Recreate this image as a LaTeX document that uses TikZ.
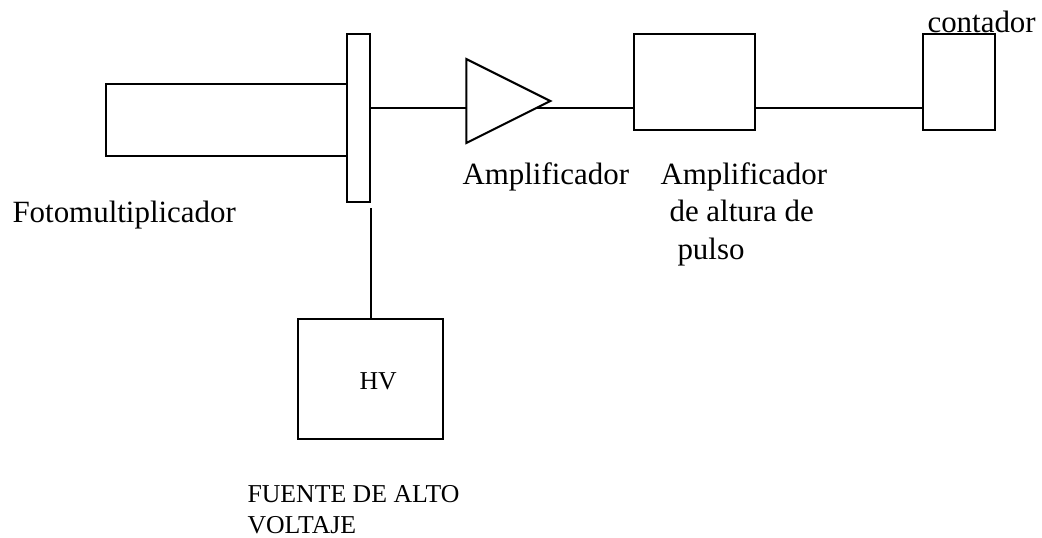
\documentclass[tikz,border=0pt]{standalone}
\usepackage{fontspec}
\setmainfont{Liberation Serif}
\usetikzlibrary{shapes.geometric,backgrounds}
\newcommand{\pxu}{0.388pt}

\begin{document}
\begin{tikzpicture}[x=0.388pt,y=-0.388pt,
  box/.style={draw,line width=0.8pt,inner sep=0pt},
  wireline/.style={line width=0.8pt},
  lbl/.style={inner sep=0pt,font=\fontsize{12}{14.5}\selectfont},
  lblsmall/.style={inner sep=0pt,font=\fontsize{10}{12}\selectfont}]
\useasboundingbox (0,0) rectangle (1042,537);

% Left: photomultiplier tube and base plate
\node[box,minimum width=241*\pxu,minimum height=72*\pxu] (tube) at (226.5,120) {};
\node[box,minimum width=23*\pxu,minimum height=168*\pxu] (plate) at (358.5,118) {};
\node[lbl,anchor=base west] (tubelbl) at (12,222) {Fotomultiplicador};

% High voltage supply below
\node[box,minimum width=145*\pxu,minimum height=120*\pxu] (hv) at (370.5,379) {};
\node[lblsmall,anchor=base west] (hvtxt) at (359,389) {HV};
\node[lblsmall,anchor=north west,align=left] (hvlbl) at (247,485) {FUENTE DE ALTO\\VOLTAJE};
\draw[wireline] ([yshift=-2pt]plate.south east) -- (plate.south east |- hv.north);

% Signal chain
\coordinate (wire) at (0,108);
\node[box,fill=white,isosceles triangle,isosceles triangle stretches,
      minimum width=84*\pxu,minimum height=84*\pxu,anchor=apex] (amp) at (553,101) {};
\node[lbl,anchor=base west] (amplbl) at (462,184) {Amplificador};

\node[box,minimum width=121*\pxu,minimum height=96*\pxu] (pha) at (694.5,82) {};
\node[lbl,anchor=north west,align=left] (phalbl) at (660,162)
  {Amplificador\\\hspace*{3.5pt}de altura de\\\hspace*{6.6pt}pulso};

\node[box,minimum width=72*\pxu,minimum height=96*\pxu] (cnt) at (959,82) {};
\node[lbl,anchor=base west] (cntlbl) at (927,32) {contador};

% Wires behind the amplifier triangle
\begin{scope}[on background layer]
\draw[wireline] (plate.east |- wire) -- (pha.west |- wire);
\draw[wireline] (pha.east |- wire) -- (cnt.west |- wire);
\end{scope}
\end{tikzpicture}
\end{document}
